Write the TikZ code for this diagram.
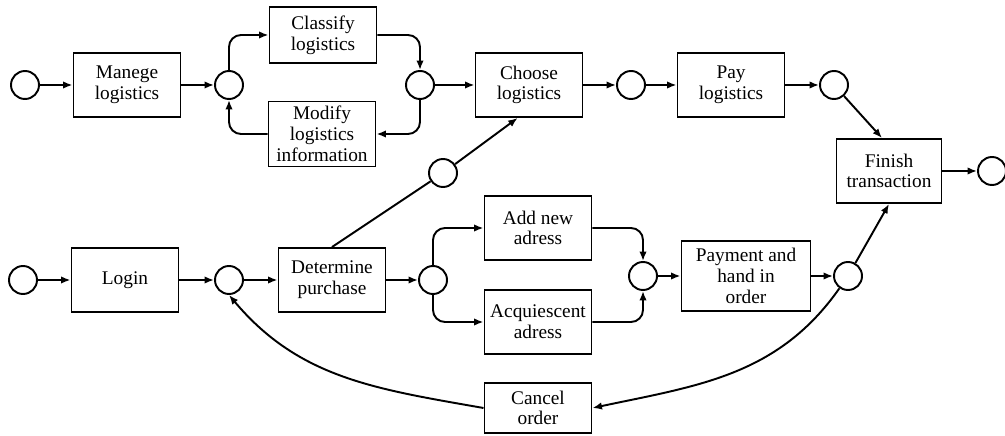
\documentclass[tikz,border=0pt]{standalone}
\usepackage{fontspec}
\setmainfont{Liberation Serif}
\usetikzlibrary{arrows.meta}

\begin{document}
\begin{tikzpicture}[x=0.2mm,y=0.2mm,line width=1.1pt,
	>={Latex[length=1.9mm,width=1.5mm]},
	place/.style={circle,draw,minimum size=5.6mm,inner sep=0pt},
	trans/.style={rectangle,draw,align=center,inner sep=1pt,
		minimum width=21.4mm,minimum height=12.8mm,
		font=\fontsize{11}{11.8}\selectfont}
	]
			\useasboundingbox (0,0) rectangle (1005,435);

			% upper row: logistics
			\node[place] (s1) at (25,350){};
			\node[trans] (manege) at (127,350){Manege\\logistics};
			\node[place] (c2) at (229,350){};
			\node[trans,minimum height=11.2mm] (classify) at (323,400){Classify\\logistics};
			\node[trans,minimum height=13mm] (modify) at (322,301){Modify\\logistics\\information};
			\node[place] (c3) at (420,350){};
			\node[trans] (choose) at (529,350){Choose\\logistics};
			\node[place] (c4) at (631,350){};
			\node[trans] (pay) at (731,350){Pay\\logistics};
			\node[place] (c5) at (834,350){};
			\node[trans,minimum width=21mm] (finish) at (889,264){Finish\\transaction};
			\node[place] (e1) at (992,264){};

			% lower row: order
			\node[place] (s2) at (23,155){};
			\node[trans] (login) at (125,155){Login};
			\node[place] (c6) at (229,155){};
			\node[trans] (determine) at (332,155){Determine\\purchase};
			\node[place] (d1) at (443,262){};
			\node[place] (c7) at (433,155){};
			\node[trans] (addnew) at (538,207){Add new\\adress};
			\node[trans] (acq) at (538,113){Acquiescent\\adress};
			\node[trans,minimum height=10mm] (cancel) at (538,27){Cancel\\order};
			\node[place] (c8) at (643,159){};
			\node[trans,minimum width=25.8mm,minimum height=14mm] (payment) at (746,159){Payment and\\hand in\\order};
			\node[place] (c9) at (848,159){};

			\draw[->] (s1) -- (manege);
			\draw[->] (manege) -- (c2);
			\draw[->,rounded corners=2.4mm] (c2.north) |- (classify.west);
			\draw[->,rounded corners=2.4mm] (classify.east) -| (c3.north);
			\draw[->,rounded corners=2.4mm] (c3.south) |- (modify.east);
			\draw[->,rounded corners=2.4mm] (modify.west) -| (c2.south);
			\draw[->] (c3) -- (choose);
			\draw[->] (choose) -- (c4);
			\draw[->] (c4) -- (pay);
			\draw[->] (pay) -- (c5);
			\draw[->] (c5) -- (finish.102);
			\draw[->] (finish) -- (e1);

			\draw[->] (s2) -- (login);
			\draw[->] (login) -- (c6);
			\draw[->] (c6) -- (determine);
			\draw[->] (determine) -- (c7);
			\draw (determine.north) -- (d1);
			\draw[->] (d1) -- (choose.-109);
			\draw[->,rounded corners=2.4mm] (c7.north) |- (addnew.west);
			\draw[->,rounded corners=2.4mm] (c7.south) |- (acq.west);
			\draw[->,rounded corners=2.4mm] (addnew.east) -| (c8.north);
			\draw[->,rounded corners=2.4mm] (acq.east) -| (c8.south);
			\draw[->] (c8) -- (payment);
			\draw[->] (payment) -- (c9);
			\draw[->] (c9) -- (finish.south);
			\draw[->] (c9.-125) to[out=-125,in=12] (cancel.east);
			\draw[->] (cancel.west) to[out=170,in=-50] (c6.south);
		\end{tikzpicture}
\end{document}
